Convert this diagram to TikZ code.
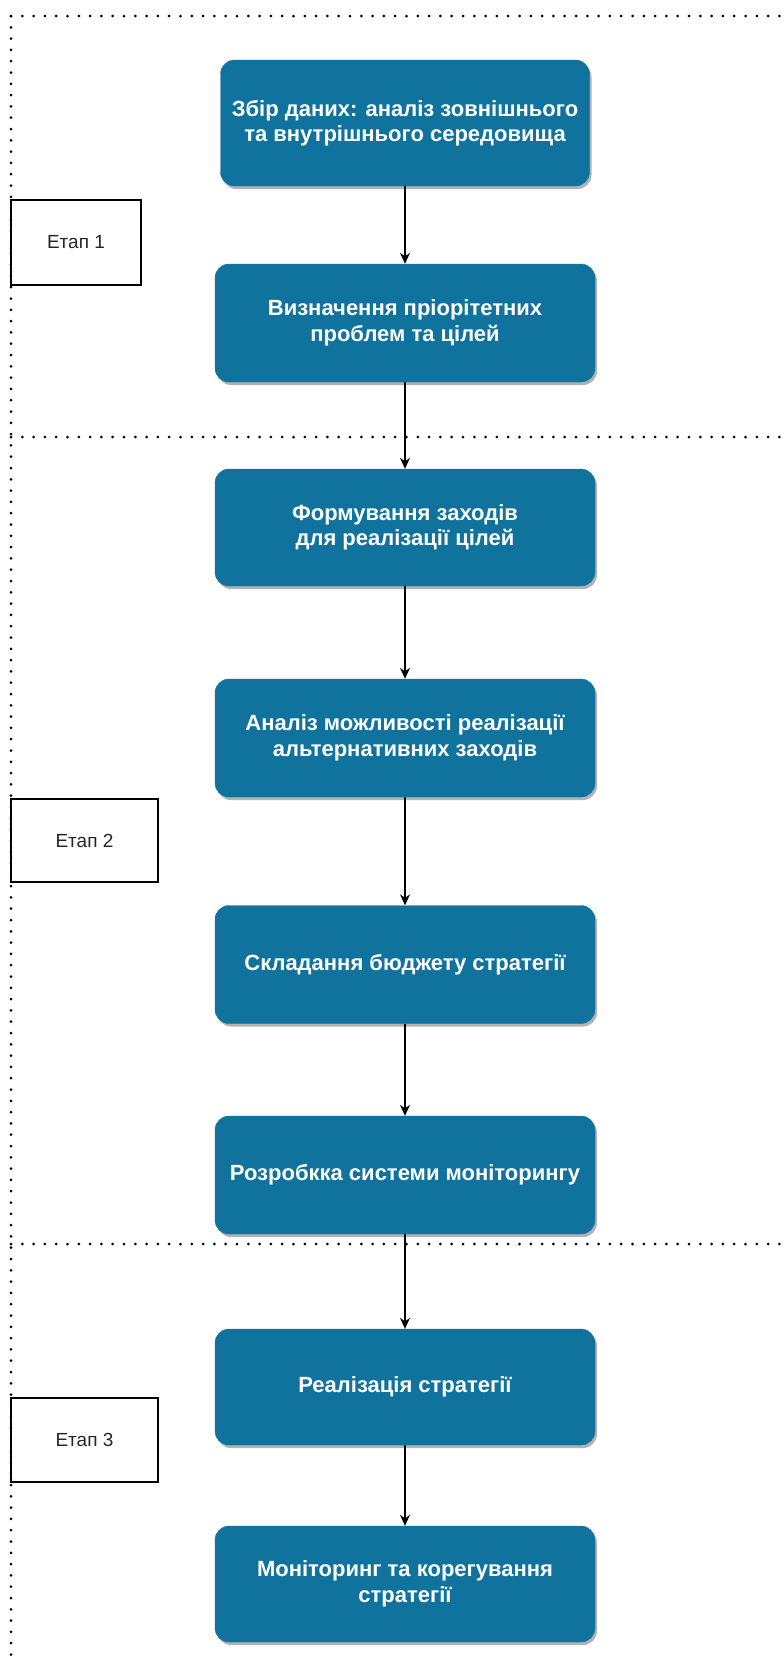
\documentclass[tikz,border=0pt]{standalone}
\usepackage{fontspec}
\setmainfont{Liberation Sans}
\usetikzlibrary{arrows.meta,shadows}
\definecolor{dblue}{HTML}{10739E}
\begin{document}
\begin{tikzpicture}[x=1pt,y=-1pt,
  stepbox/.style={rectangle, rounded corners=14pt, fill=dblue, draw=dblue, text=white,
    font=\bfseries\fontsize{22}{25.5}\selectfont, align=center,
    minimum width=380pt, minimum height=118pt, inner sep=0pt,
    drop shadow={shadow xshift=2pt, shadow yshift=-3pt, fill=black, opacity=0.3}},
  etapbox/.style={rectangle, draw=black, line width=1.2pt, fill=white,
    font=\fontsize{19}{22}\selectfont, text=black!85, inner sep=0pt},
  sep/.style={line width=3pt, dash pattern=on 0pt off 11.3pt, line cap=round},
  conn/.style={line width=1.3pt, -{Stealth[length=11pt,width=10pt]}}
]
\useasboundingbox (0,0) rectangle (784,1658);
% dotted separators
\coordinate (tl) at (11,16);
\coordinate (bl) at (11,1658);
\coordinate (tr) at (784,16);
\coordinate (m1l) at (11,437);
\coordinate (m1r) at (784,437);
\coordinate (m2l) at (11,1244);
\coordinate (m2r) at (784,1244);
\draw[sep] (tl) -- (bl);
\draw[sep] (tl) -- (tr);
\draw[sep] (m1l) -- (m1r);
\draw[sep] (m2l) -- (m2r);

% stage boxes
\node[etapbox, minimum width=130pt, minimum height=85pt] (e1) at (76,242.5) {Етап 1};
\node[etapbox, minimum width=147pt, minimum height=83pt] (e2) at (84.5,840.5) {Етап 2};
\node[etapbox, minimum width=147pt, minimum height=84pt] (e3) at (84.5,1440) {Етап 3};

% process boxes
\node[stepbox, minimum width=369pt, minimum height=126pt] (b1) at (405,123) {Збір даних: аналіз зовнішнього\\та внутрішнього середовища};
\node[stepbox] (b2) at (405,323) {Визначення пріорітетних\\проблем та цілей};
\node[stepbox, minimum height=117pt] (b3) at (405,527.5) {Формування заходів\\для реалізації цілей};
\node[stepbox] (b4) at (405,738) {Аналіз можливості реалізації\\альтернативних заходів};
\node[stepbox] (b5) at (405,964.5) {Складання бюджету стратегії};
\node[stepbox] (b6) at (405,1175) {Розробкка системи моніторингу};
\node[stepbox, minimum height=116pt] (b7) at (405,1387) {Реалізація стратегії};
\node[stepbox, minimum height=116pt] (b8) at (405,1584) {Моніторинг та корегування\\стратегії};

% connectors
\draw[conn] (b1.south) -- (b1.south |- b2.north);
\draw[conn] (b2.south) -- (b2.south |- b3.north);
\draw[conn] (b3.south) -- (b3.south |- b4.north);
\draw[conn] (b4.south) -- (b4.south |- b5.north);
\draw[conn] (b5.south) -- (b5.south |- b6.north);
\draw[conn] (b6.south) -- (b6.south |- b7.north);
\draw[conn] (b7.south) -- (b7.south |- b8.north);
\end{tikzpicture}
\end{document}
